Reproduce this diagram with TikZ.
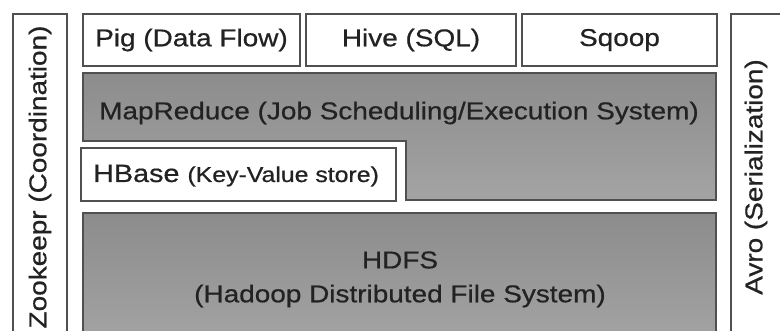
\documentclass[tikz,border=0pt]{standalone}
\usepackage{fontspec}
\usepackage{graphicx}
\setmainfont{Liberation Sans}[FakeBold=0.6]
\definecolor{edge}{HTML}{505050}
\definecolor{ink}{HTML}{222222}
\definecolor{gtop}{HTML}{8C8C8C}
\definecolor{gbot}{HTML}{A4A4A4}
\newcommand\wtxt[1]{\scalebox{1.15}[1]{#1}}
\newcommand\bigf{\fontsize{24.3}{28}\selectfont}
\newcommand\hbf{\fontsize{25}{28}\selectfont}
\newcommand\smf{\fontsize{21.6}{25}\selectfont}
\tikzset{
  wbox/.style={draw=edge, line width=1.4pt, fill=white},
  gbox/.style={draw=edge, line width=1.4pt, top color=gtop, bottom color=gbot},
  lbl/.style={inner sep=0pt, text=ink, font=\bigf, align=center}
}
\begin{document}
\begin{tikzpicture}[x=1pt,y=-1pt]
\useasboundingbox (0,0) rectangle (780,331);
\clip (0,0) rectangle (780,331);
\fill[white] (0,0) rectangle (780,331);
% side boxes
\draw[wbox] (13,14) rectangle (67,345);
\draw[wbox] (731,14) rectangle (800,345);
\node[lbl, rotate=90] (zoo) at (40,177) {\wtxt{Zookeepr (Coordination)}};
\node[lbl, rotate=90] (avro) at (756,177) {\wtxt{Avro (Serialization)}};
% top row
\draw[wbox] (83,14) rectangle (300,66);
\draw[wbox] (306,14) rectangle (516,66);
\draw[wbox] (522,14) rectangle (717,66);
\node[lbl] (pig) at (191.5,40) {\wtxt{Pig (Data Flow)}};
\node[lbl] (hive) at (411,40) {\wtxt{Hive (SQL)}};
\node[lbl] (sqoop) at (619.5,40) {\wtxt{Sqoop}};
% MapReduce L-shape
\draw[gbox] (83,73) -- (716,73) -- (716,200) -- (406,200) -- (406,141) -- (83,141) -- cycle;
\node[lbl] (mr) at (399,113) {\wtxt{MapReduce (Job Scheduling/Execution System)}};
% HBase
\draw[wbox] (81,148) rectangle (396,201);
\node[lbl, anchor=base west] (hbase) at (93,182) {\wtxt{\hbf HBase \smf(Key-Value store)}};
% HDFS
\draw[gbox] (83,213) rectangle (716,345);
\node[lbl] (hdfs) at (400,260) {\wtxt{HDFS}};
\node[lbl] (hdfs2) at (400,296) {\wtxt{(Hadoop Distributed File System)}};
\end{tikzpicture}
\end{document}
